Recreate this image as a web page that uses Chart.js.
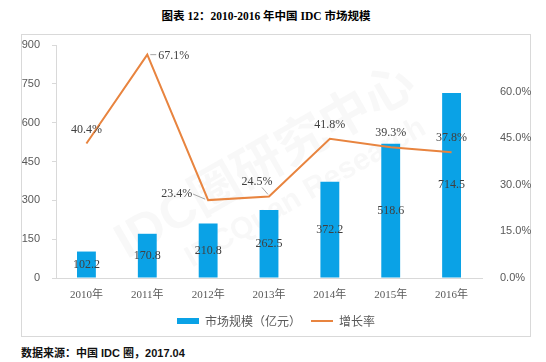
<!DOCTYPE html>
<html><head><meta charset="utf-8">
<script src="https://cdn.jsdelivr.net/npm/chart.js@4.4.1/dist/chart.umd.min.js"></script>
<style>
html,body{margin:0;padding:0;background:#fff;}
#wrap{position:relative;width:546px;height:362px;overflow:hidden;background:#fff;}
#title{position:absolute;left:0;top:8px;width:532px;text-align:center;font:bold 11.5px "Liberation Serif","Noto Sans CJK SC";color:#000;line-height:17px;white-space:nowrap;}
#frame{position:absolute;left:21px;top:34px;width:510px;height:303px;border:1px solid #d9d9d9;box-sizing:border-box;}
#cv{position:absolute;left:21px;top:34px;}
#foot{position:absolute;left:21px;top:345px;font:bold 11px "Liberation Sans","Noto Sans CJK SC";color:#111;line-height:16px;white-space:nowrap;}
</style></head><body>
<div id="wrap">
  <div id="title">图表 12：2010-2016 年中国 IDC 市场规模</div>
  <div id="frame"></div>
  <canvas id="cv" width="510" height="303"></canvas>
  <div id="foot">数据来源：中国 IDC 圈，2017.04</div>
</div>
<script>
// ---- data ----
const categories = ['2010年','2011年','2012年','2013年','2014年','2015年','2016年'];
const marketSize = [102.2, 170.8, 210.8, 262.5, 372.2, 518.6, 714.5];   // 亿元
const growthRate = [40.4, 67.1, 23.4, 24.5, 41.8, 39.3, 37.8];          // %
const sizeTicks = [0, 150, 300, 450, 600, 750, 900];
const rateTicks = [0, 15, 30, 45, 60];
const seriesNames = ['市场规模（亿元）', '增长率'];

// ---- label placement (style only) ----
const rateLabelPlace = ['top','right','left','topLeft','top','top','top'];

const valueLabels = {
  id: 'valueLabels',
  afterDatasetsDraw(chart) {
    const ctx = chart.ctx;
    ctx.save();
    ctx.font = '12px "Liberation Serif", "Noto Sans CJK SC"';
    ctx.fillStyle = '#404040';
    ctx.textBaseline = 'middle';
    chart.getDatasetMeta(0).data.forEach((el, i) => {
      const p = el.getProps(['x','y','base'], true);
      ctx.textAlign = 'center';
      ctx.fillText(marketSize[i].toFixed(1), p.x, (p.y + p.base) / 2);
    });
    ctx.strokeStyle = '#a6a6a6';
    ctx.lineWidth = 1;
    chart.getDatasetMeta(1).data.forEach((el, i) => {
      const {x, y} = el.getProps(['x','y'], true);
      const txt = growthRate[i].toFixed(1) + '%';
      const place = rateLabelPlace[i];
      if (place === 'top') {
        ctx.textAlign = 'center';
        ctx.fillText(txt, x, y - 14);
      } else if (place === 'right') {
        ctx.beginPath(); ctx.moveTo(x + 3, y); ctx.lineTo(x + 9, y); ctx.stroke();
        ctx.textAlign = 'left';
        ctx.fillText(txt, x + 11, y + 1);
      } else if (place === 'left') {
        ctx.beginPath(); ctx.moveTo(x - 15, y - 6); ctx.lineTo(x - 3, y - 1); ctx.stroke();
        ctx.textAlign = 'right';
        ctx.fillText(txt, x - 16, y - 6);
      } else {
        ctx.beginPath(); ctx.moveTo(x - 7, y - 9); ctx.lineTo(x - 1, y - 2); ctx.stroke();
        ctx.textAlign = 'center';
        ctx.fillText(txt, x - 12, y - 15);
      }
    });
    ctx.restore();
  }
};

const watermark = {
  id: 'watermark',
  beforeDatasetsDraw(chart) {
    const ctx = chart.ctx;
    ctx.save();
    ctx.fillStyle = 'rgba(120,120,120,0.05)';
    ctx.textAlign = 'center';
    ctx.textBaseline = 'middle';
    ctx.translate(245, 130);
    ctx.rotate(-0.52);
    ctx.font = 'bold 50px "Liberation Sans", "Noto Sans CJK SC"';
    ctx.fillText('IDC圈研究中心', 0, 0);
    ctx.font = 'bold 30px "Liberation Sans", "Noto Sans CJK SC"';
    ctx.fillText('IDCQuan Research', 20, 45);
    ctx.restore();
  }
};

function noVPad(axis) { axis.paddingTop = 0; axis.paddingBottom = 0; }

new Chart(document.getElementById('cv'), {
  data: {
    labels: categories,
    datasets: [
      {
        type: 'bar',
        label: seriesNames[0],
        data: marketSize,
        backgroundColor: '#0AA2E6',
        borderWidth: 0,
        yAxisID: 'y',
        barPercentage: 0.31,
        categoryPercentage: 1,
        pointStyle: 'rect',
        order: 1
      },
      {
        type: 'line',
        label: seriesNames[1],
        data: growthRate,
        borderColor: '#E8843F',
        backgroundColor: '#E8843F',
        borderWidth: 2,
        tension: 0,
        pointRadius: 0,
        pointStyle: 'line',
        yAxisID: 'yRate',
        order: 0
      }
    ]
  },
  options: {
    responsive: false,
    animation: false,
    layout: { padding: { top: 11, left: 0, right: 0, bottom: 0 } },
    plugins: {
      tooltip: { enabled: false },
      title: { display: false },
      legend: {
        position: 'bottom',
        labels: {
          usePointStyle: true,
          pointStyleWidth: 22,
          boxHeight: 6,
          padding: 10,
          color: '#595959',
          font: { size: 12, family: '"Noto Sans CJK SC", "Liberation Sans"' },
          sort: (a, b) => a.datasetIndex - b.datasetIndex
        }
      }
    },
    scales: {
      x: {
        grid: { display: true, drawOnChartArea: false, drawTicks: false },
        border: { display: true, color: '#d9d9d9' },
        ticks: { color: '#595959', padding: 11, font: { size: 11, family: '"Liberation Serif", "Noto Sans CJK SC"' } },
        afterFit(axis) { axis.height = 27; }
      },
      y: {
        position: 'left',
        min: sizeTicks[0],
        max: sizeTicks[sizeTicks.length - 1],
        afterBuildTicks(axis) { axis.ticks = sizeTicks.map(v => ({ value: v })); },
        grid: { display: true, drawOnChartArea: false, drawTicks: true, tickLength: 4, color: '#d9d9d9' },
        border: { display: true, color: '#d9d9d9' },
        ticks: { color: '#595959', padding: 12, font: { size: 11, family: '"Liberation Sans"' } },
        afterFit(axis) { axis.width = 35; noVPad(axis); }
      },
      yAxisRight: {
        position: 'right',
        min: 0,
        max: 75,
        afterBuildTicks(axis) { axis.ticks = rateTicks.map(v => ({ value: v })); },
        grid: { display: false },
        border: { display: false },
        ticks: {
          color: '#595959', padding: 10, font: { size: 11, family: '"Liberation Sans"' },
          callback: v => v.toFixed(1) + '%'
        },
        afterFit(axis) { axis.width = 49; noVPad(axis); }
      },
      yRate: {
        display: false,
        min: 0,
        max: 70
      }
    }
  },
  plugins: [watermark, valueLabels]
});
</script>
</body></html>
